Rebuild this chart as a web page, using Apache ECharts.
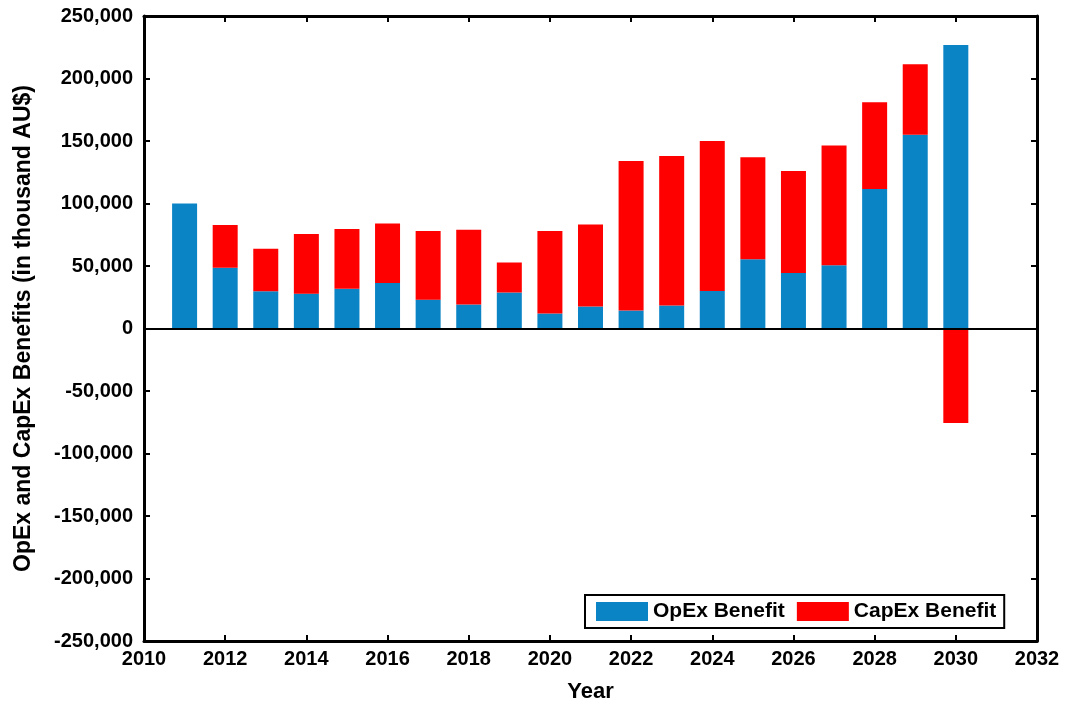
<!DOCTYPE html>
<html>
<head>
<meta charset="utf-8">
<script src="https://cdn.jsdelivr.net/npm/echarts@6/dist/echarts.min.js"></script>
<style>
  html, body { margin: 0; padding: 0; background: #fff; }
  #chart { width: 1065px; height: 702px; }
</style>
</head>
<body>
<div id="chart"></div>
<script>
// one slot per year on the x range 2010-2032
var xCategories = ['2010', '2011', '2012', '2013', '2014', '2015', '2016', '2017', '2018', '2019', '2020', '2021',
                   '2022', '2023', '2024', '2025', '2026', '2027', '2028', '2029', '2030', '2031', '2032'];
// years of the bars
var years = ['2011', '2012', '2013', '2014', '2015', '2016', '2017', '2018', '2019', '2020',
             '2021', '2022', '2023', '2024', '2025', '2026', '2027', '2028', '2029', '2030'];
// OpEx benefit (thousand AU$)
var opex = [100000, 48600, 29800, 27900, 31900, 36400, 23100, 19200, 28800, 12000,
            17600, 14400, 18400, 30100, 55500, 44500, 50700, 111600, 155000, 226800];
// CapEx benefit (thousand AU$)
var capex = [0, 34200, 34100, 47700, 47700, 47700, 54900, 59800, 24000, 66000,
             65600, 119600, 119600, 119900, 81500, 81500, 95700, 69400, 56400, -75600];

var font = 'Liberation Sans, Arial, sans-serif';

// put the values on their year slot, empty elsewhere
function onSlots(vals) {
  return xCategories.map(function (c) {
    var i = years.indexOf(c);
    return i < 0 ? null : vals[i];
  });
}

var myChart = echarts.init(document.getElementById('chart'));

var axisLine = { show: true, onZero: false, lineStyle: { color: '#000', width: 3 } };
var tick = { show: true, inside: true, length: 6, lineStyle: { color: '#000', width: 2 } };

myChart.setOption({
  animation: false,
  grid: { left: 144, right: 28, top: 16, bottom: 61, outerBoundsMode: 'none' },
  legend: {
    left: 585, top: 595,
    data: ['OpEx Benefit', 'CapEx Benefit'],
    icon: 'rect',
    itemWidth: 52, itemHeight: 19, itemGap: 12,
    borderColor: '#000', borderWidth: 2, padding: [6, 8, 6, 11],
    textStyle: { fontFamily: font, fontWeight: 'bold', fontSize: 21, color: '#000' }
  },
  xAxis: [{
    type: 'category', data: xCategories, boundaryGap: false, position: 'bottom',
    name: 'Year', nameLocation: 'middle', nameGap: 40,
    nameTextStyle: { fontFamily: font, fontWeight: 'bold', fontSize: 22, color: '#000' },
    axisLine: axisLine,
    axisTick: { show: true, inside: true, length: 6, interval: 1, lineStyle: { color: '#000', width: 2 } },
    splitLine: { show: false },
    axisLabel: { interval: 1, fontFamily: font, fontWeight: 'bold', fontSize: 20, color: '#000', margin: 8 }
  }, {
    type: 'value', min: 2010, max: 2032, interval: 2, position: 'top',
    axisLine: axisLine, axisTick: tick, splitLine: { show: false },
    axisLabel: { show: false }
  }],
  yAxis: [{
    type: 'value', min: -250000, max: 250000, interval: 50000, position: 'left',
    name: 'OpEx and CapEx Benefits (in thousand AU$)', nameLocation: 'middle', nameGap: 109,
    nameTextStyle: { fontFamily: font, fontWeight: 'bold', fontSize: 23, color: '#000' },
    axisLine: axisLine, axisTick: tick, splitLine: { show: false },
    axisLabel: {
      fontFamily: font, fontWeight: 'bold', fontSize: 20, color: '#000', margin: 11,
      formatter: function (v) { return v.toLocaleString('en-US'); }
    }
  }, {
    type: 'value', min: -250000, max: 250000, interval: 50000, position: 'right',
    axisLine: axisLine, axisTick: tick, splitLine: { show: false },
    axisLabel: { show: false }
  }],
  series: [{
    name: 'OpEx Benefit', type: 'bar', stack: 'b', barWidth: 25,
    xAxisIndex: 0, yAxisIndex: 0,
    itemStyle: { color: '#0B84C6' },
    data: onSlots(opex),
    markLine: {
      silent: true, symbol: 'none', label: { show: false },
      lineStyle: { color: '#000', width: 2, type: 'solid' },
      data: [{ yAxis: 0 }]
    }
  }, {
    name: 'CapEx Benefit', type: 'bar', stack: 'b', barWidth: 25,
    xAxisIndex: 0, yAxisIndex: 0,
    itemStyle: { color: '#FF0000' },
    data: onSlots(capex)
  }]
});
</script>
</body>
</html>
